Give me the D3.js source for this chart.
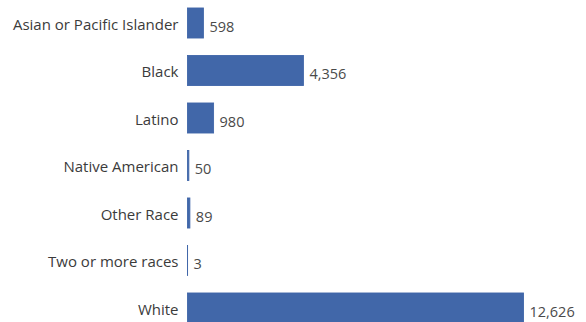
<!DOCTYPE html>
<html>
<head>
<meta charset="utf-8">
<script src="https://cdn.jsdelivr.net/npm/d3@7"></script>
<style>
  html, body { margin: 0; padding: 0; background: #ffffff; }
  svg { display: block; }
  text { font-family: "Open Sans", "Noto Sans", sans-serif; }
</style>
</head>
<body>
<svg id="chart"></svg>
<script>
// Count by race
const categories = [
  "Asian or Pacific Islander",
  "Black",
  "Latino",
  "Native American",
  "Other Race",
  "Two or more races",
  "White"
];
const counts = [598, 4356, 980, 50, 89, 3, 12626];

const width = 586, height = 322;
const margin = { left: 187.5, right: 62.5 };

const svg = d3.select("#chart")
  .attr("width", width)
  .attr("height", height);

const rows = categories.map((c, i) => ({ category: c, value: counts[i] }));

const x = d3.scaleLinear()
  .domain([0, d3.max(counts)])
  .range([margin.left, width - margin.right]);

const y = d3.scaleBand()
  .domain(categories)
  .range([-0.75, 331.75])
  .paddingInner(0.368)
  .paddingOuter(0.184);

const barColor = "#4167a9";

// bars (thin outline keeps very small counts visible)
svg.append("g")
  .selectAll("rect")
  .data(rows)
  .join("rect")
  .attr("x", x(0))
  .attr("y", d => y(d.category))
  .attr("width", d => x(d.value) - x(0))
  .attr("height", y.bandwidth())
  .attr("fill", barColor)
  .attr("stroke", barColor)
  .attr("stroke-width", 0.9);

// category labels on the left
const fmt = d3.format(",");
svg.append("g")
  .selectAll("text")
  .data(rows)
  .join("text")
  .attr("x", x(0) - 9)
  .attr("y", d => y(d.category) + y.bandwidth() / 2)
  .attr("dy", "0.45em")
  .attr("text-anchor", "end")
  .attr("font-size", 15)
  .attr("fill", "#3b3b3b")
  .text(d => d.category);

// value labels at bar ends
svg.append("g")
  .selectAll("text")
  .data(rows)
  .join("text")
  .attr("x", d => x(d.value) + 6)
  .attr("y", d => y(d.category) + y.bandwidth() / 2)
  .attr("dy", "0.62em")
  .attr("font-size", 14.5)
  .attr("fill", "#4a4a4a")
  .text(d => fmt(d.value));
</script>
</body>
</html>
